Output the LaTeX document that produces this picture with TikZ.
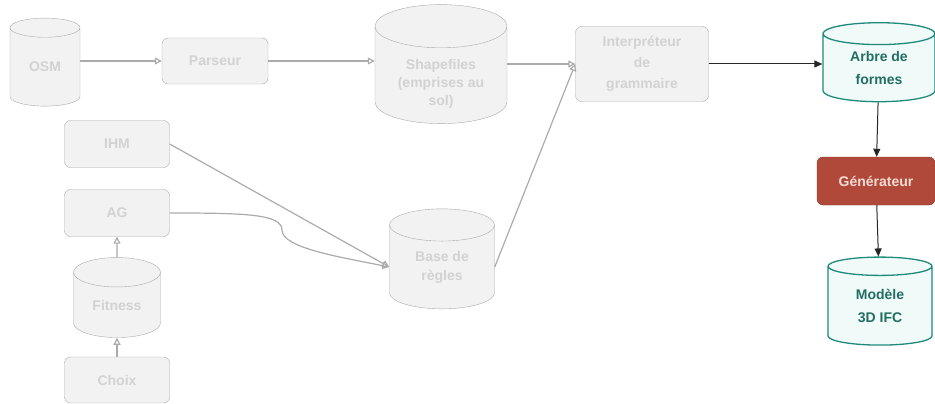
\documentclass[tikz,border=0pt]{standalone}
\usepackage{fontspec}
\setmainfont{Liberation Sans}
\usetikzlibrary{shapes.geometric,arrows.meta}
\definecolor{greyfill}{HTML}{F2F2F2}
\definecolor{greyline}{HTML}{ABABAB}
\definecolor{greytext}{HTML}{D2D2D2}
\definecolor{tealline}{HTML}{1F8A7C}
\definecolor{tealfill}{HTML}{F0FAF8}
\definecolor{tealtext}{HTML}{226E63}
\definecolor{genfill}{HTML}{B04939}
\definecolor{genline}{HTML}{8C3529}
\definecolor{gentext}{HTML}{F6DCD4}
\tikzset{
  box/.style={draw=greyline, fill=greyfill, rounded corners=6pt, text=greytext,
    font=\bfseries\fontsize{14}{21}\selectfont, align=center, inner sep=0pt},
  store/.style={cylinder, shape border rotate=90, aspect=0.6, draw=greyline,
    fill=greyfill, text=greytext, font=\bfseries\fontsize{14}{19}\selectfont,
    align=center, inner sep=0pt},
  outstore/.style={store, aspect=0.38, draw=tealline, fill=tealfill, text=tealtext,
    line width=1.3pt, font=\bfseries\fontsize{14}{23}\selectfont},
  gen/.style={box, draw=genline, fill=genfill, text=gentext},
  flow/.style={draw=greyline, line width=1.2pt, -{Triangle[open,length=7pt,width=7pt]}},
  outflow/.style={draw=black!85, line width=1pt, -{Triangle[length=8pt,width=7pt]}}
}
\begin{document}
\begin{tikzpicture}[x=1pt,y=-1pt]
  \useasboundingbox (0,0) rectangle (935,404);

  % inputs
  \node[store, minimum width=70pt, minimum height=88pt] (osm) at (45,67) {OSM};
  \node[box, minimum width=106pt, minimum height=46pt] (parseur) at (215,61) {Parseur};
  \node[store, aspect=0.5, minimum width=132pt, minimum height=100pt,
    font=\bfseries\fontsize{14}{18}\selectfont] (shp) at (441,75)
    {\raisebox{-9pt}[\height][\depth]{\begin{tabular}{@{}c@{}}Shapefiles\\(emprises au\\sol)\end{tabular}}};
  \node[box, minimum width=133pt, minimum height=75pt] (interp) at (642,64) {Interpr\'eteur\\de\\grammaire};

  % rules side
  \node[box, minimum width=105pt, minimum height=47pt] (ihm) at (117,144) {IHM};
  \node[box, minimum width=105pt, minimum height=47pt] (ag) at (117,213) {AG};
  \node[store, minimum width=87pt, minimum height=80pt] (fitness) at (117,305) {Fitness};
  \node[box, minimum width=105pt, minimum height=46pt] (choix) at (117,380) {Choix};
  \node[store, minimum width=105pt, minimum height=100pt] (regles) at (442,267) {Base de\\r\`egles};

  % output
  \node[outstore, minimum width=112pt, minimum height=79pt] (arbre) at (879,68) {Arbre de\\formes};
  \node[gen, minimum width=118pt, minimum height=48pt] (gen) at (876,181) {G\'en\'erateur};
  \node[outstore, minimum width=104pt, minimum height=88pt] (ifc) at (880,306) {Mod\`ele\\3D IFC};

  \draw[flow] (osm.east |- parseur) -- (parseur);
  \draw[flow] (parseur) -- (shp.west |- parseur);
  \draw[flow] (shp.east |- interp) -- (interp);
  \draw[flow] (regles.east) -- (interp.west);
  \draw[flow] (ihm.east) -- (regles.west);
  \draw[flow] (ag.east) .. controls (245,213) and (282,214) .. (282,230)
    .. controls (282,248) and (340,257) .. (regles.west);
  \draw[flow] (fitness) -- (ag);
  \draw[flow] (choix) -- (fitness);

  \draw[outflow] (interp) -- (arbre.west |- interp);
  \draw[outflow] (arbre) -- (gen);
  \draw[outflow] (gen) -- (ifc);
\end{tikzpicture}
\end{document}
